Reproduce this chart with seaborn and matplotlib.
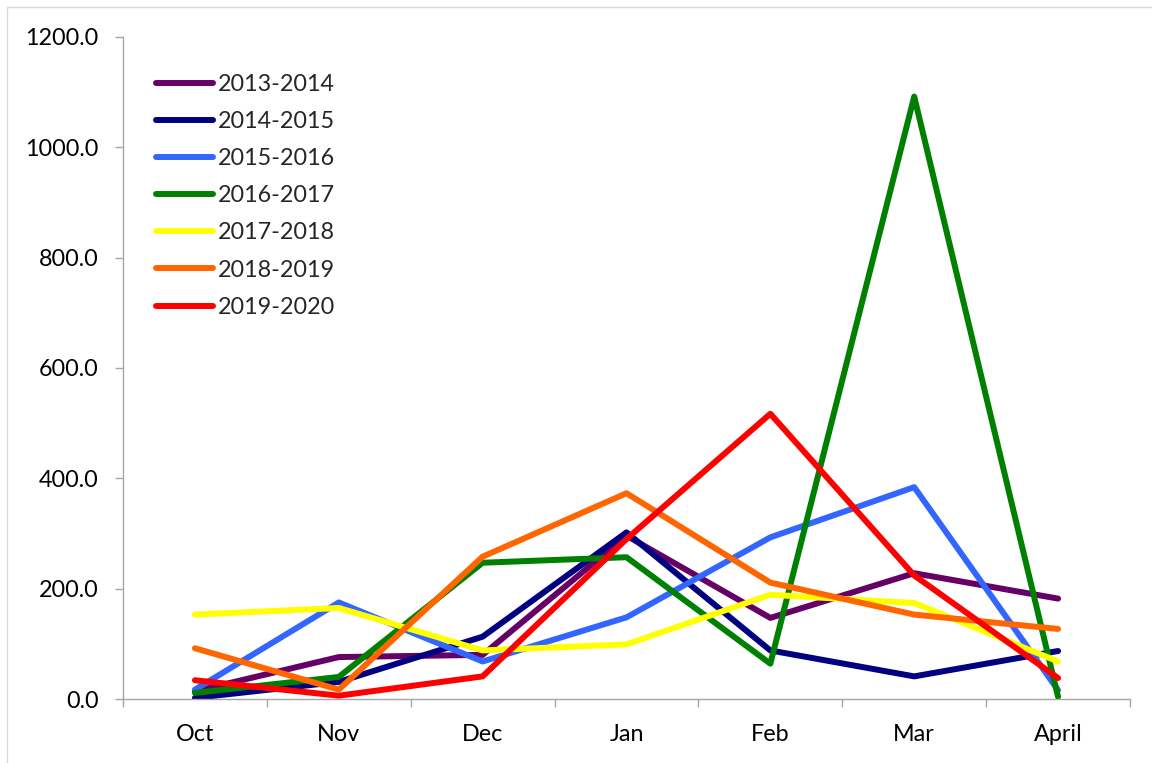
import matplotlib
matplotlib.use("Agg")
import matplotlib.pyplot as plt
from matplotlib.patches import Rectangle
import seaborn as sns
import pandas as pd

months = ["Oct", "Nov", "Dec", "Jan", "Feb", "Mar", "April"]
seasons = ["2013-2014", "2014-2015", "2015-2016", "2016-2017",
           "2017-2018", "2018-2019", "2019-2020"]

s2013_2014 = [14, 76, 80, 296, 147, 228, 182]
s2014_2015 = [2, 31, 113, 302, 88, 41, 87]
s2015_2016 = [17, 175, 68, 148, 293, 384, 16]
s2016_2017 = [11, 40, 247, 257, 64, 1092, 4]
s2017_2018 = [153, 165, 88, 99, 189, 174, 68]
s2018_2019 = [92, 17, 258, 373, 211, 153, 127]
s2019_2020 = [34, 6, 41, 290, 517, 224, 38]

series = [s2013_2014, s2014_2015, s2015_2016, s2016_2017,
          s2017_2018, s2018_2019, s2019_2020]
colors = ["#660066", "#000080", "#3366FF", "#008000",
          "#FFFF00", "#FF6600", "#FF0000"]

rows = []
for season, vals in zip(seasons, series):
    for i, (m, v) in enumerate(zip(months, vals)):
        rows.append({"pos": i, "month": m, "season": season, "value": v})
df = pd.DataFrame(rows)

sns.set_theme(style="white")
plt.rcParams["font.family"] = ["Lato", "DejaVu Sans"]

fig = plt.figure(figsize=(11.52, 7.63), dpi=100)
ax = fig.add_axes([123 / 1152, 1 - 699 / 763, (1130 - 123) / 1152, (699 - 37) / 763])

sns.lineplot(data=df, x="pos", y="value", hue="season", hue_order=seasons,
             palette=colors, sort=False, linewidth=4.3, ax=ax,
             solid_capstyle="round", solid_joinstyle="round")

ax.set_xlim(-0.5, len(months) - 0.5)
ax.set_ylim(0, 1200)
ax.set_xlabel("")
ax.set_ylabel("")

ax.set_yticks(range(0, 1201, 200))
ax.set_yticklabels([f"{v:.1f}" for v in range(0, 1201, 200)], fontsize=16.8)
ax.set_xticks(range(len(months)))
ax.set_xticklabels(months, fontsize=16.8)
ax.set_xticks([i - 0.5 for i in range(len(months) + 1)], minor=True)

axis_gray = "#A6A6A6"
for side in ("top", "right"):
    ax.spines[side].set_visible(False)
for side in ("left", "bottom"):
    ax.spines[side].set_color(axis_gray)
    ax.spines[side].set_linewidth(1.0)

ax.tick_params(axis="y", which="major", direction="out", length=5.5, width=1.0,
               color=axis_gray, pad=12, left=True, labelcolor="black")
ax.tick_params(axis="x", which="major", length=0, pad=18, labelcolor="black")
ax.tick_params(axis="x", which="minor", direction="out", length=6, width=1.0,
               color=axis_gray, bottom=True)

leg = ax.legend(loc="upper left", bbox_to_anchor=(0.033, 0.944), frameon=False,
                fontsize=16.8, handlelength=2.45, handletextpad=0.18,
                labelspacing=0.69, borderpad=0, borderaxespad=0)
for line in leg.get_lines():
    line.set_linewidth(4.3)
    line.set_solid_capstyle("round")

# light frame around the chart area
fig.patches.append(Rectangle((7 / 1152, -0.02), 1.05, 1 - 7 / 763 + 0.02,
                             transform=fig.transFigure, fill=False,
                             edgecolor="#D9D9D9", linewidth=1.0))

fig.savefig("out.png", dpi=100)
